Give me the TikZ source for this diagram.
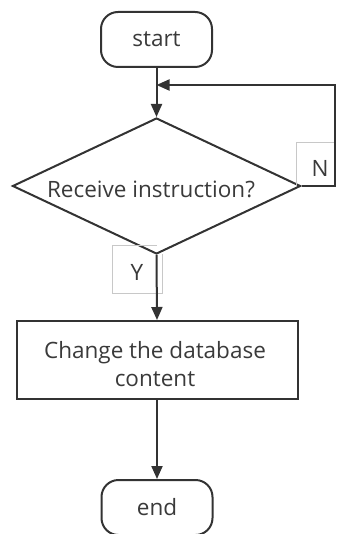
\documentclass[tikz,border=0pt]{standalone}
\usepackage{fontspec}
\setmainfont{Open Sans}
\usetikzlibrary{arrows.meta,shapes.geometric}
\definecolor{ln}{HTML}{333333}
\definecolor{tx}{HTML}{3A3A3A}
\definecolor{lb}{HTML}{C8C8C8}
\begin{document}
\begin{tikzpicture}[x=1pt,y=-1pt,
  every node/.style={font=\fontsize{22.5}{28}\selectfont, text=tx},
  term/.style={draw=ln, line width=2pt, rounded corners=17pt, minimum width=111pt, minimum height=55pt, inner sep=0pt},
  dec/.style={draw=ln, line width=2pt, diamond, minimum width=288pt, minimum height=136pt, inner sep=0pt},
  proc/.style={draw=ln, line width=2pt, minimum width=281pt, minimum height=78pt, inner sep=0pt},
  conn/.style={draw=ln, line width=2pt, -{Triangle[length=13pt,width=11pt]}},
  lbox/.style={draw=lb, line width=0.6pt}]
\useasboundingbox (0,0) rectangle (337,534);
\begin{scope}
\clip (0,0) rectangle (337,534);
\node[term] (start) at (156.5,39.5) {start};
\node[dec] (dec) at (156.5,186) {};
\node (dect) at (151,189) {Receive instruction?};
\node[proc] (proc) at (157,360) {};
\node[align=center, inner sep=0pt] (proct) at (155,364) {Change the database\\ content};
\node[term] (end) at (157,507.5) {end};
\coordinate (join) at (156.5,85);
\coordinate (rc) at (335,186);
\coordinate (tr) at (335,85);
% label boxes
\draw[lbox] (335,142) -- (296,142) -- (296,186);
\node (nl) at (320,168) {N};
\draw[lbox] (156.5,245) -- (112,245) -- (112,293) -- (162,293) -- (162,254);
\node (yl) at (137,272) {Y};
% connectors
\draw[conn] (start.south) -- (dec.north);
\draw[conn] (dec.east) -- (rc) -- (tr) -- (join);
\draw[conn] (dec.south) -- (proc.north);
\draw[conn] (proc.south) -- (end.north);
\end{scope}
\end{tikzpicture}
\end{document}
